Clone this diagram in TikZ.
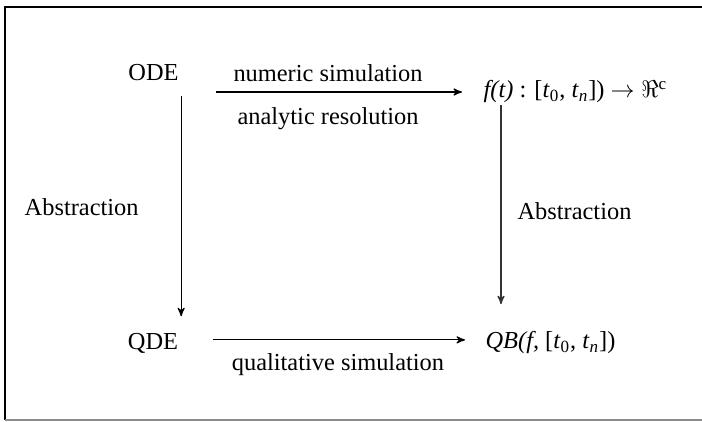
\documentclass[tikz,border=0pt]{standalone}
\usepackage{fontspec}
\setmainfont{Liberation Serif}
\usetikzlibrary{arrows}
\usetikzlibrary{positioning}

\begin{document}
\begin{tikzpicture}[->,
                    >=stealth',
                    x=0.5pt, y=-0.5pt,
                    line width=0.6pt,
                    trm/.style={inner sep=0pt, font=\fontsize{12.2}{14}\selectfont},
                    lbl/.style={inner sep=0pt, font=\fontsize{12.2}{14}\selectfont}
                    %frm/.style={draw, line width=1pt}
                    ]
  \useasboundingbox (0,0) rectangle (702,422);
  \draw[-, line width=1pt] (702,7.5) -- (4.5,7.5) -- (4.5,420.5);
  \draw[-, line width=1pt, black!45] (4.5,420.5) -- (702,420.5);

  \node[trm, anchor=base] (ode) at (153.5,81) {ODE};
  \node[trm, anchor=base] (qde) at (153,350) {QDE};
  \node[trm, anchor=base west] (sol) at (483,98)
       {\textit{f(t)} : [\textit{t}\textsubscript{0}, \textit{t}\textsubscript{\textit{n}}]) $\rightarrow \Re^{\mathrm{c}}$};
  \node[trm, anchor=base west] (qb) at (485,349)
       {\textit{QB(f,} [\textit{t}\textsubscript{0}, \textit{t}\textsubscript{\textit{n}}])};

  \draw [shorten <=18.25pt, shorten >=10.5pt] (ode.east |- sol.west) -- (sol.west)
        node[lbl, pos=0.49, above=5pt] {numeric simulation}
        node[lbl, pos=0.49, below=7.5pt] {analytic resolution};
  \draw [shorten <=7pt, shorten >=8.5pt] ([xshift=1pt]ode.south east) -- ([xshift=1pt]ode.south east |- qde.north)
        node[lbl, midway, left=21pt] {Abstraction};
  \draw [shorten <=0.5pt, shorten >=13.5pt, black!80] ([xshift=9pt]sol.south west) -- ([xshift=9pt]sol.south west |- qb.north)
        node[lbl, black, pos=0.47, right=8pt] {Abstraction};
  \draw [shorten <=17pt, shorten >=10pt] ([yshift=2pt]qde.east) -- ([yshift=2pt]qde.east -| qb.west)
        node[lbl, pos=0.52, below=6.5pt] {qualitative simulation};
\end{tikzpicture}
\end{document}
